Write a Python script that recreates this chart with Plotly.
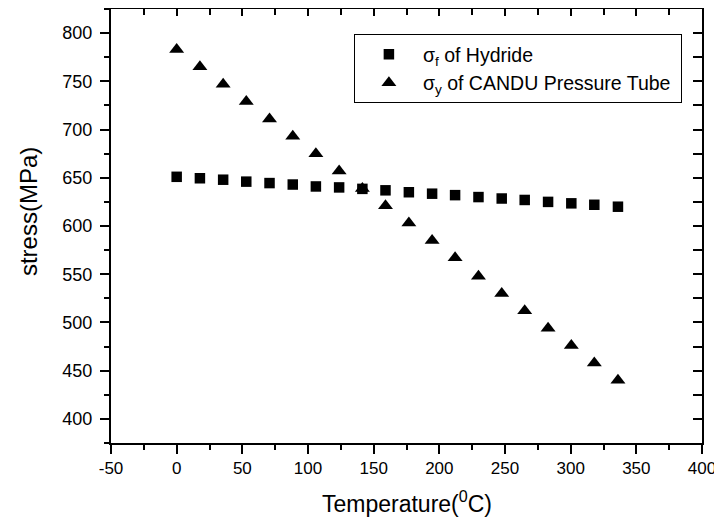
import plotly.graph_objects as go

temperature = [0, 17.7, 35.4, 53.0, 70.7, 88.4, 106.0, 123.7, 141.4, 159.0,
               176.8, 194.5, 212.0, 229.8, 247.5, 265.0, 282.8, 300.5, 318.0, 336.0]
sigma_f_hydride = [651, 649.5, 648, 646, 644.5, 643, 641, 640, 638.5, 637,
                   635, 633.5, 632, 630, 628.5, 627, 625, 623.5, 622, 620]
sigma_y_tube = [783, 765, 747, 729, 711, 693, 675, 657, 639, 621,
                603, 585, 567, 548, 530, 512, 494, 476, 458, 440]

x_tick_vals = [-50, 0, 50, 100, 150, 200, 250, 300, 350, 400]
x_tick_text = ["-50", "0", "50", "100", "150", "200", "250", "300", "350", "400"]
y_tick_vals = [400, 450, 500, 550, 600, 650, 700, 750, 800]
y_tick_text = ["400", "450", "500", "550", "600", "650", "700", "750", "800"]

x_range = [-50, 400]
y_range = [375, 825]

FONT = "Liberation Sans, Arial, sans-serif"

fig = go.Figure()
fig.add_trace(go.Scatter(
    x=temperature, y=sigma_f_hydride, mode="markers",
    name="σ<sub>f</sub> of Hydride",
    marker=dict(symbol="square", size=10.5, color="black"),
))
fig.add_trace(go.Scatter(
    x=temperature, y=sigma_y_tube, mode="markers",
    name="σ<sub>y</sub> of CANDU Pressure Tube\u00a0",
    marker=dict(symbol="triangle-up", size=13, color="black"),
))
# empty trace to activate mirrored top/right axes
fig.add_trace(go.Scatter(x=[], y=[], xaxis="x2", yaxis="y2", showlegend=False,
                         hoverinfo="skip"))

common = dict(showgrid=False, zeroline=False, showline=True, linecolor="black",
              linewidth=2, tickcolor="black", tickwidth=1.5)

fig.update_layout(
    width=714, height=515,
    margin=dict(l=103, r=20, t=1, b=80),
    paper_bgcolor="white", plot_bgcolor="white",
    font=dict(family=FONT, color="black"),
    showlegend=True,
    xaxis=dict(range=x_range, tickmode="array", tickvals=x_tick_vals,
               ticktext=x_tick_text, ticks="outside", ticklen=9,
               minor=dict(ticks="outside", dtick=25, tick0=0, ticklen=5,
                          tickwidth=1.5, tickcolor="black"),
               tickfont=dict(size=17, family=FONT),
               **common),
    yaxis=dict(range=y_range, tickmode="array", tickvals=y_tick_vals,
               ticktext=y_tick_text, ticks="outside", ticklen=9,
               ticklabelstandoff=4,
               minor=dict(ticks="outside", dtick=25, tick0=400, ticklen=5,
                          tickwidth=1.5, tickcolor="black"),
               tickfont=dict(size=18, family=FONT),
               **common),
    xaxis2=dict(range=x_range, overlaying="x", side="top", anchor="y",
                tickmode="array", tickvals=x_tick_vals, ticks="inside", ticklen=7,
                showticklabels=False,
                minor=dict(ticks="inside", dtick=25, tick0=0, ticklen=6,
                           tickwidth=1.5, tickcolor="black"),
                **common),
    yaxis2=dict(range=y_range, overlaying="y", side="right", anchor="x",
                tickmode="array", tickvals=y_tick_vals, ticks="inside", ticklen=9,
                showticklabels=False,
                minor=dict(ticks="inside", dtick=25, tick0=400, ticklen=9,
                           tickwidth=1.5, tickcolor="black"),
                **common),
    legend=dict(x=0.411, y=0.942, xanchor="left", yanchor="top",
                bgcolor="white", bordercolor="black", borderwidth=1,
                font=dict(size=19.5, family=FONT), itemwidth=58,
                tracegroupgap=0),
    annotations=[
        dict(text="Temperature(<sup>0</sup>C)", xref="paper", yref="paper",
             x=0.5, y=0, xanchor="center", yanchor="middle", yshift=-59,
             showarrow=False, font=dict(size=23, family=FONT)),
        dict(text="stress(MPa)", xref="paper", yref="paper",
             x=0, y=0.532, xanchor="center", yanchor="middle", xshift=-83,
             textangle=-90, showarrow=False, font=dict(size=24, family=FONT)),
    ],
)

fig.write_html("out.html")
